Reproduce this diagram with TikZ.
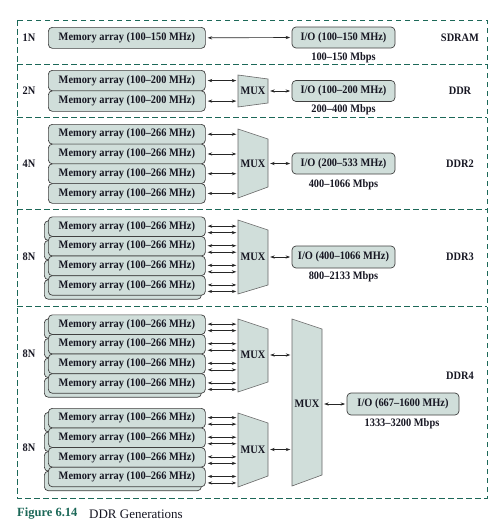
\documentclass[tikz,border=0pt]{standalone}
\usepackage{fontspec}
\setmainfont{Liberation Serif}
\newfontfamily\labfont[FakeStretch=0.91]{Liberation Serif}
\usetikzlibrary{arrows.meta}
\definecolor{boxfill}{RGB}{208,222,218}
\definecolor{frameteal}{RGB}{28,104,88}
\definecolor{txt}{RGB}{22,22,34}
\begin{document}
\begin{tikzpicture}[x=1pt,y=-1pt,
  lab/.style={font=\labfont\fontsize{11.4}{13}\selectfont\bfseries, text=txt, inner sep=0pt},
  boxbase/.style={draw=black!75, fill=boxfill, rounded corners=4pt, line width=0.7pt, inner sep=0pt},
  mem/.style={boxbase, lab, minimum width=157pt, minimum height=19.6pt, anchor=north west},
  backbox/.style={boxbase, minimum width=157pt, minimum height=19.6pt, anchor=north west},
  io/.style={boxbase, lab, minimum width=103pt, minimum height=21pt},
  muxshape/.style={draw=black!60, fill=boxfill, line width=0.6pt},
  muxlab/.style={lab, minimum width=30pt},
  arr/.style={{Stealth[length=4.5pt,width=3.2pt]}-{Stealth[length=4.5pt,width=3.2pt]}, line width=0.65pt, draw=black!85, shorten <=2pt, shorten >=1.5pt},
  sep/.style={draw=frameteal, dash pattern=on 5.5pt off 3.5pt, line width=1pt}
]
\useasboundingbox (0,0) rectangle (503,530);

% frame and separators
\draw[sep] (17,20) rectangle (487,498);
\draw[sep] (17,64) -- (487,64);
\draw[sep] (17,117) -- (487,117);
\draw[sep] (17,209) -- (487,209);
\draw[sep] (17,306) -- (487,306);

% ---------- Row 1: SDRAM
\node[lab] (n1) at (29,37.5) {1N};
\node[mem, minimum height=21pt] (m1) at (48,27) {Memory array (100–150 MHz)};
\node[io] (io1) at (343.5,37.5) {I/O (100–150 MHz)};
\draw[arr] (m1.east) -- (io1.west);
\node[lab] (r1) at (343.5,58) {100–150 Mbps};
\node[lab] (g1) at (460,37.5) {SDRAM};

% ---------- Row 2: DDR
\node[lab] (n2) at (29,91) {2N};
\node[mem, minimum height=20.5pt] (m2a) at (48,70) {Memory array (100–200 MHz)};
\node[mem, minimum height=20.5pt] (m2b) at (48,90.5) {Memory array (100–200 MHz)};
\draw[muxshape] (238,75) -- (268,79) -- (268,103) -- (238,107) -- cycle;
\node[muxlab, minimum height=32pt] (mx2) at (253,91) {MUX};
\draw[arr] (m2a.east) -- (m2a.east -| mx2.west);
\draw[arr] (m2b.east) -- (m2b.east -| mx2.west);
\node[io] (io2) at (343.5,91) {I/O (100–200 MHz)};
\draw[arr] (mx2.east) -- (io2.west);
\node[lab] (r2) at (343.5,109.5) {200–400 Mbps};
\node[lab] (g2) at (460,91) {DDR};

% ---------- Row 3: DDR2
\node[lab] (n3) at (29,163.5) {4N};
\foreach \i in {0,1,2,3}{
  \pgfmathsetmacro\t{124+19.75*\i}
  \node[mem, minimum height=19.75pt] (d2m\i) at (48,\t) {Memory array (100–266 MHz)};
}
\draw[muxshape] (238,129) -- (268,139) -- (268,187) -- (238,198) -- cycle;
\node[muxlab, minimum height=69pt] (mx3) at (253,163.5) {MUX};
\foreach \i in {0,1,2,3}{
  \draw[arr] (d2m\i.east) -- (d2m\i.east -| mx3.west);
}
\node[io] (io3) at (343.5,163.5) {I/O (200–533 MHz)};
\draw[arr] (mx3.east) -- (io3.west);
\node[lab] (r3) at (343.5,184.5) {400–1066 Mbps};
\node[lab] (g3) at (460,163.5) {DDR2};

% ---------- Row 4: DDR3
\node[lab] (n4) at (29,257) {8N};
\foreach \i in {0,1,2,3}{
  \pgfmathsetmacro\t{216.5+19.6*\i}
  \node[backbox] (d3b\i) at (44,\t+4) {};
  \node[mem] (d3m\i) at (48,\t) {Memory array (100–266 MHz)};
}
\draw[muxshape] (238,220) -- (268,230) -- (268,285) -- (238,294) -- cycle;
\node[muxlab, minimum height=74pt] (mx4) at (253,257) {MUX};
\foreach \i in {0,1,2,3}{
  \draw[arr] ([yshift=0.5pt]d3m\i.east) -- ([yshift=0.5pt]d3m\i.east -| mx4.west);
  \draw[arr] ([yshift=-6pt]d3m\i.east) -- ([yshift=-6pt]d3m\i.east -| mx4.west);
}
\node[io, minimum height=22pt] (io4) at (343.5,257) {I/O (400–1066 MHz)};
\draw[arr] (mx4.east) -- (io4.west);
\node[lab] (r4) at (343.5,277) {800–2133 Mbps};
\node[lab] (g4) at (460,257) {DDR3};

% ---------- Row 5: DDR4
\node[lab] (n5a) at (29,353.5) {8N};
\node[lab] (n5b) at (29,447.5) {8N};
\foreach \i in {0,1,2,3}{
  \pgfmathsetmacro\t{314.5+19.6*\i}
  \node[backbox] (d4ab\i) at (44,\t+4) {};
  \node[mem] (d4am\i) at (48,\t) {Memory array (100–266 MHz)};
}
\foreach \i in {0,1,2,3}{
  \pgfmathsetmacro\t{408+19.6*\i}
  \node[backbox] (d4bb\i) at (44,\t+4) {};
  \node[mem] (d4bm\i) at (48,\t) {Memory array (100–266 MHz)};
}
\draw[muxshape] (238,319) -- (268,329) -- (268,382) -- (238,392) -- cycle;
\node[muxlab, minimum height=73pt] (mx5a) at (253,355) {MUX};
\draw[muxshape] (238,413) -- (268,423) -- (268,476) -- (238,487) -- cycle;
\node[muxlab, minimum height=74pt] (mx5b) at (253,449.5) {MUX};
\draw[muxshape] (292,319) -- (322,329) -- (322,475) -- (292,486) -- cycle;
\node[muxlab, minimum height=40pt] (mxbig) at (307,404) {MUX};
\foreach \i in {0,1,2,3}{
  \draw[arr] ([yshift=0.5pt]d4am\i.east) -- ([yshift=0.5pt]d4am\i.east -| mx5a.west);
  \draw[arr] ([yshift=-6pt]d4am\i.east) -- ([yshift=-6pt]d4am\i.east -| mx5a.west);
  \draw[arr] ([yshift=0.5pt]d4bm\i.east) -- ([yshift=0.5pt]d4bm\i.east -| mx5b.west);
  \draw[arr] ([yshift=-6pt]d4bm\i.east) -- ([yshift=-6pt]d4bm\i.east -| mx5b.west);
}
\draw[arr] (mx5a.east) -- (mx5a.east -| mxbig.west);
\draw[arr] (mx5b.east) -- (mx5b.east -| mxbig.west);
\node[io, minimum width=112pt, minimum height=22pt] (io5) at (403,404) {I/O (667–1600 MHz)};
\draw[arr] (mxbig.east) -- (io5.west);
\node[lab] (r5) at (402,423.5) {1333–3200 Mbps};
\node[lab] (g5) at (460,376) {DDR4};

% ---------- caption
\node[anchor=west, inner sep=0pt, font=\fontsize{12.5}{14}\selectfont\bfseries, text=frameteal] (figcap) at (17,514) {Figure 6.14};
\node[anchor=west, inner sep=0pt, font=\fontsize{13}{15}\selectfont, text=txt] (captxt) at (89,514) {DDR Generations};
\end{tikzpicture}
\end{document}
